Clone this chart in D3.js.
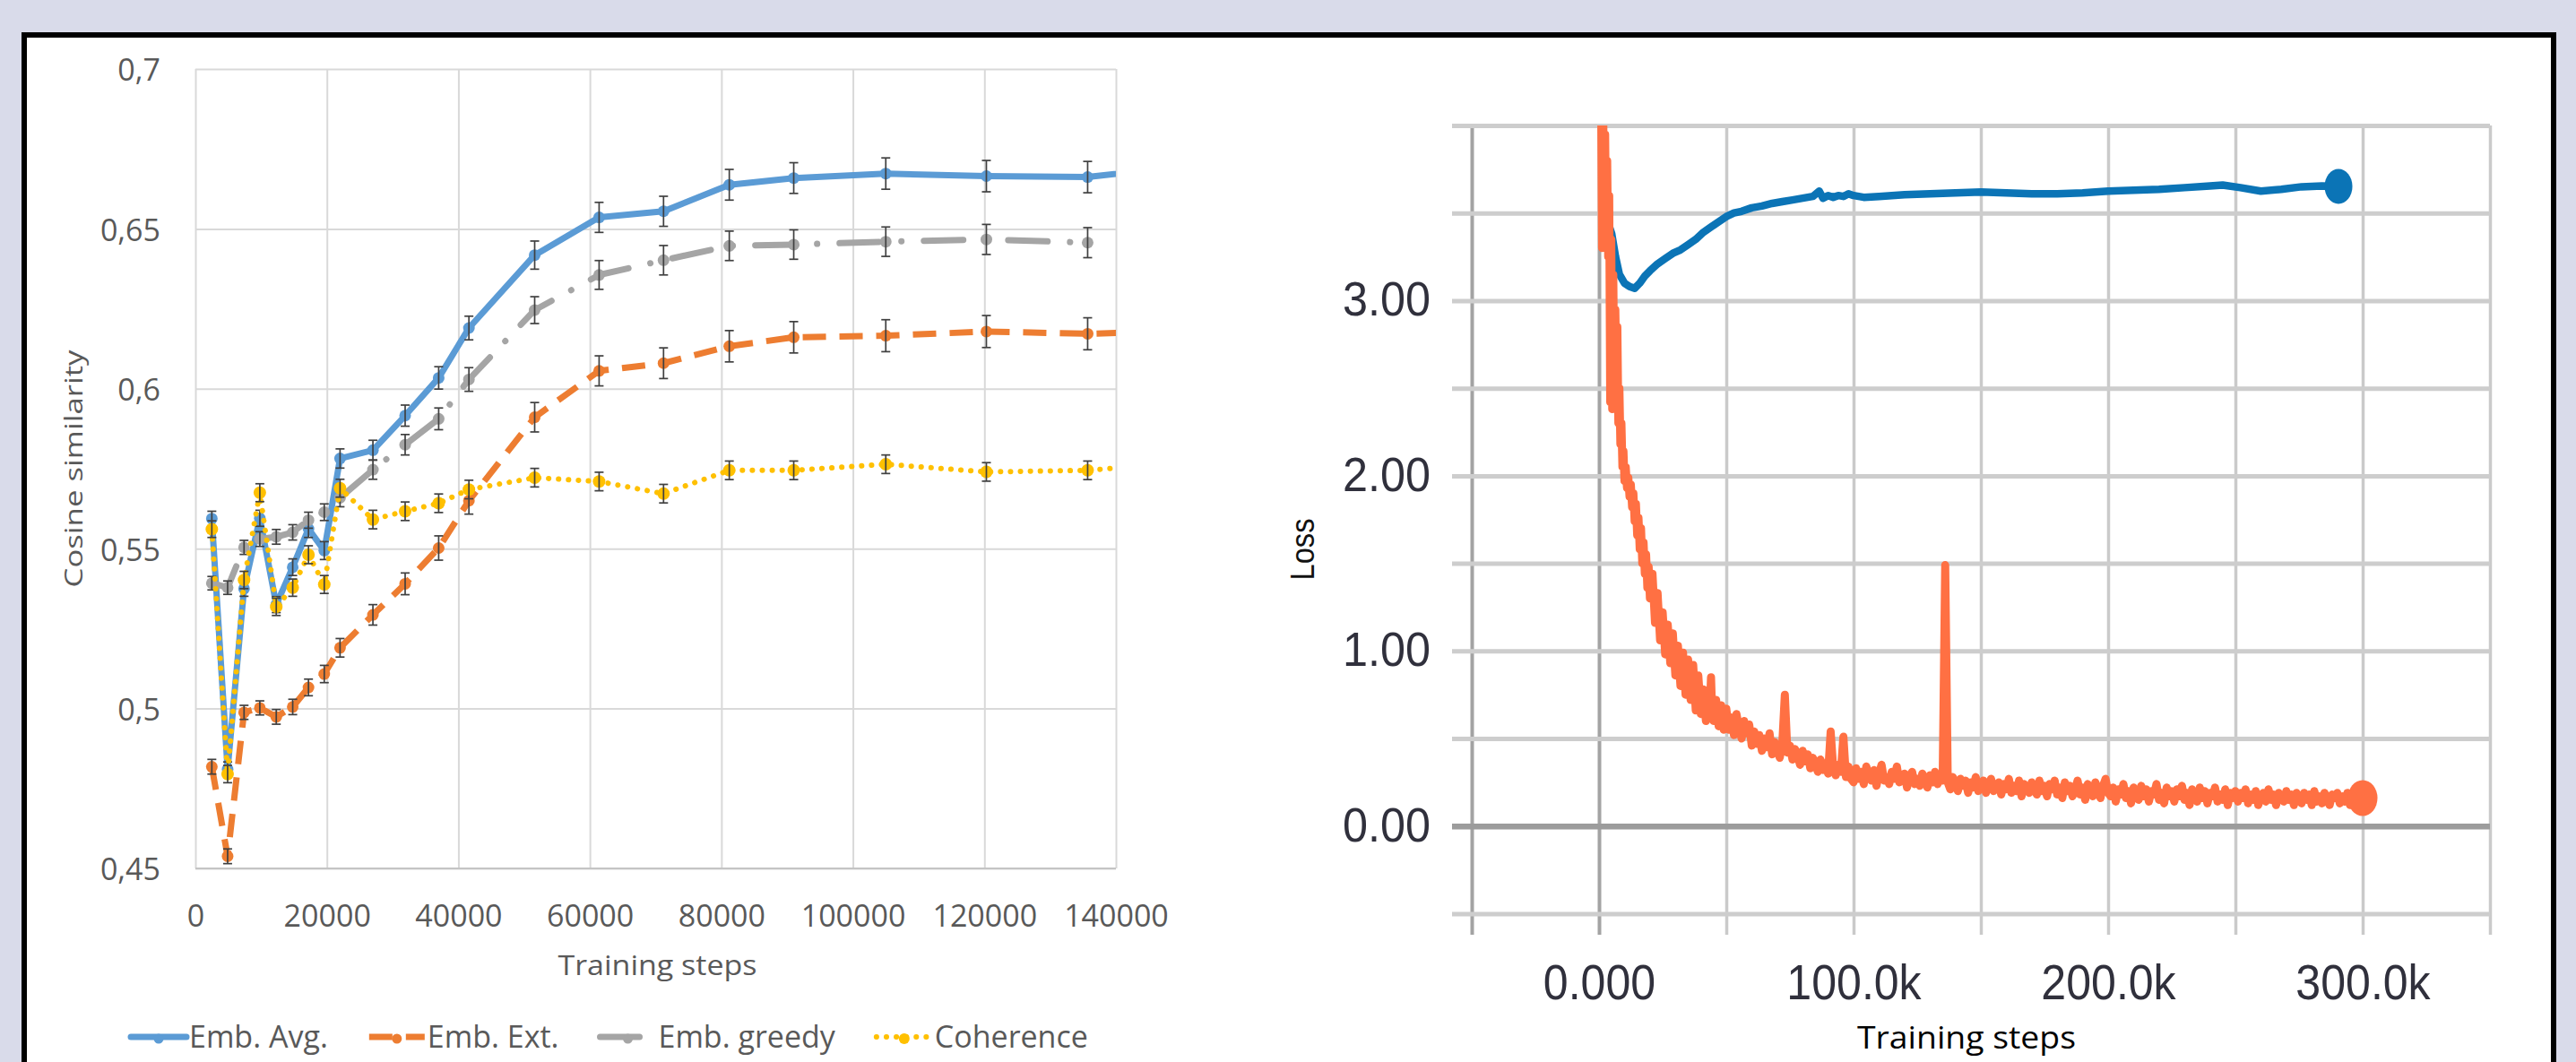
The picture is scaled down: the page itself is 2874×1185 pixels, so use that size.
<!DOCTYPE html>
<html>
<head>
<meta charset="utf-8">
<script src="https://cdn.jsdelivr.net/npm/d3@7"></script>
<style>
html, body { margin: 0; padding: 0; background: #d9dbea; }
svg { display: block; }
</style>
</head>
<body>
<div id="chart"></div>
<script>
// ---------------- left panel: cosine similarity (Excel style) ----------------
// last step lies past the axis end, Excel clips the line at the plot edge
const steps = [2500, 4900, 7400, 9800, 12300, 14800, 17200, 19600, 22000, 27000, 31900, 37000,
    41600, 51600, 61400, 71200, 81200, 91000, 105000, 120300, 135700, 149500];

const embAvg = [0.5594, 0.4810, 0.5375, 0.5595, 0.5325, 0.5442, 0.5562, 0.5494, 0.5782, 0.5808, 0.5916, 0.6034,
    0.6190, 0.6418, 0.6536, 0.6555, 0.6638, 0.6659, 0.6673, 0.6665, 0.6662, 0.6695];
const embAvgErr = [0.0023, 0.0023, 0.0024, 0.0025, 0.0025, 0.0026, 0.0027, 0.0028, 0.0030, 0.0031, 0.0033, 0.0035,
    0.0037, 0.0044, 0.0047, 0.0047, 0.0048, 0.0048, 0.0049, 0.0049, 0.0049, 0.0049];

const embExt = [0.4818, 0.4538, 0.4988, 0.5002, 0.4974, 0.5005, 0.5066, 0.5108, 0.5190, 0.5293, 0.5390, 0.5502,
    0.5650, 0.5911, 0.6056, 0.6080, 0.6133, 0.6161, 0.6166, 0.6179, 0.6172, 0.6180];
const embExtErr = [0.0023, 0.0023, 0.0022, 0.0022, 0.0023, 0.0024, 0.0026, 0.0027, 0.0029, 0.0032, 0.0034, 0.0038,
    0.0042, 0.0046, 0.0047, 0.0048, 0.0049, 0.0049, 0.0050, 0.0050, 0.0050, 0.0050];

const embGreedy = [0.5392, 0.5378, 0.5504, 0.5530, 0.5537, 0.5551, 0.5589, 0.5614, 0.5659, 0.5747, 0.5825, 0.5906,
    0.6029, 0.6246, 0.6356, 0.6402, 0.6447, 0.6451, 0.6460, 0.6467, 0.6457];
const embGreedyErr = [0.0021, 0.0021, 0.0022, 0.0023, 0.0023, 0.0024, 0.0025, 0.0026, 0.0028, 0.0030, 0.0032, 0.0034,
    0.0037, 0.0042, 0.0045, 0.0046, 0.0046, 0.0046, 0.0046, 0.0047, 0.0047];

const coherence = [0.5561, 0.4795, 0.5402, 0.5675, 0.5318, 0.5378, 0.5481, 0.5388, 0.5689, 0.5591, 0.5617, 0.5642,
    0.5685, 0.5722, 0.5710, 0.5672, 0.5745, 0.5745, 0.5764, 0.5740, 0.5745, 0.5768];
const coherenceErr = [0.0026, 0.0027, 0.0027, 0.0028, 0.0027, 0.0027, 0.0028, 0.0028, 0.0028, 0.0029, 0.0029, 0.0029,
    0.0029, 0.0029, 0.0029, 0.0029, 0.0029, 0.0029, 0.0029, 0.0029, 0.0029, 0.0029];

const seriesNames = ['Emb. Avg.', 'Emb. Ext.', 'Emb. greedy', 'Coherence'];

const xTicksL = [0, 20000, 40000, 60000, 80000, 100000, 120000, 140000];
const yTicksL = [0.45, 0.5, 0.55, 0.6, 0.65, 0.7];
const yTickLabelsL = ['0,45', '0,5', '0,55', '0,6', '0,65', '0,7'];

// ---------------- right panel: loss (TensorBoard style) ----------------
// [step in thousands, loss]
const lossBlue = [[1.5, 3.55], [3, 3.47], [5, 3.38], [6.5, 3.25], [8, 3.15], [10, 3.10], [12, 3.08], [14, 3.07],
    [16, 3.10], [18, 3.14], [20, 3.17], [23, 3.21], [26, 3.24], [29, 3.27], [32, 3.29], [35, 3.32], [38, 3.35],
    [41, 3.39], [44, 3.42], [47, 3.45], [50, 3.48], [53, 3.50], [56, 3.51], [60, 3.53], [64, 3.54], [68, 3.555],
    [72, 3.565], [76, 3.575], [80, 3.585], [84, 3.595], [86.5, 3.625], [88, 3.585], [90, 3.60], [92, 3.59],
    [94, 3.60], [96, 3.595], [98, 3.61], [100, 3.60], [104, 3.59], [110, 3.595], [120, 3.605], [130, 3.61],
    [140, 3.615], [150, 3.62], [160, 3.615], [170, 3.61], [180, 3.61], [190, 3.615], [200, 3.625], [210, 3.63],
    [220, 3.635], [230, 3.645], [240, 3.655], [245, 3.66], [252, 3.645], [260, 3.625], [268, 3.635], [276, 3.65],
    [284, 3.655], [290.5, 3.652]];

// steep, very noisy start of the orange curve
const lossOrangeHead = [[0.3, 4.6], [0.8, 4.25], [1.2, 3.3], [1.6, 4.15], [2.0, 3.45], [2.4, 3.95], [2.8, 3.3],
    [3.2, 3.8], [3.6, 3.25], [4.0, 3.6], [4.4, 2.42], [4.8, 3.35], [5.2, 2.38], [5.6, 3.15], [6.0, 2.5],
    [6.4, 2.95], [6.8, 2.6], [7.2, 2.85], [7.6, 2.3], [8.0, 2.5], [8.4, 2.18], [8.8, 2.3], [9.2, 2.05],
    [9.6, 2.14], [10.0, 1.97], [10.5, 2.05], [11.0, 1.93], [11.5, 1.99], [12.0, 1.88], [12.5, 1.95], [13.0, 1.82],
    [13.5, 1.9], [14.0, 1.74], [14.5, 1.84], [15.0, 1.66], [15.5, 1.76], [16.0, 1.58], [16.5, 1.7], [17.0, 1.5],
    [17.5, 1.62], [18.0, 1.44], [18.5, 1.55], [19.0, 1.36], [19.5, 1.48],
    [20, 1.30], [21, 1.44], [22, 1.16], [23, 1.33], [24, 1.06], [25, 1.22], [26, 0.98], [27, 1.15], [28, 0.93],
    [29, 1.10], [30, 0.86], [31, 1.03], [32, 0.80], [33, 0.99], [34, 0.75], [35, 0.95], [36, 0.72], [37, 0.92],
    [38, 0.66], [39, 0.86], [40, 0.64], [41, 0.78], [42, 0.60], [43, 0.74], [43.5, 0.66], [44, 0.85], [44.5, 0.62],
    [45, 0.60], [46, 0.72], [47, 0.57], [48, 0.69], [49, 0.55]];

// logged every 1k steps from 50k to 300k
const lossOrangeTailStartK = 50;
const lossOrangeTail = [
    0.67, 0.55, 0.62, 0.52, 0.64, 0.56, 0.50, 0.60, 0.53, 0.58,   // 50k
    0.46, 0.54, 0.47, 0.52, 0.43, 0.50, 0.45, 0.53, 0.41, 0.48,   // 60k
    0.44, 0.39, 0.47, 0.75, 0.42, 0.46, 0.38, 0.44, 0.40, 0.35,   // 70k
    0.43, 0.37, 0.41, 0.33, 0.39, 0.35, 0.31, 0.38, 0.32, 0.36,   // 80k
    0.30, 0.54, 0.33, 0.29, 0.35, 0.31, 0.51, 0.28, 0.34, 0.27,   // 90k
    0.25, 0.33, 0.27, 0.31, 0.24, 0.34, 0.29, 0.26, 0.32, 0.23,   // 100k
    0.30, 0.35, 0.26, 0.28, 0.24, 0.31, 0.27, 0.34, 0.25, 0.29,   // 110k
    0.30, 0.22, 0.28, 0.31, 0.24, 0.27, 0.23, 0.30, 0.26, 0.22,   // 120k
    0.29, 0.25, 0.31, 0.24, 0.28, 0.26, 1.49, 0.25, 0.21, 0.28,   // 130k
    0.24, 0.20, 0.27, 0.23, 0.26, 0.19, 0.25, 0.22, 0.28, 0.20,   // 140k
    0.24, 0.26, 0.19, 0.23, 0.27, 0.20, 0.22, 0.25, 0.18, 0.24,   // 150k
    0.21, 0.27, 0.19, 0.23, 0.20, 0.26, 0.17, 0.24, 0.22, 0.19,   // 160k
    0.25, 0.21, 0.18, 0.26, 0.20, 0.23, 0.17, 0.24, 0.21, 0.26,   // 170k
    0.18, 0.22, 0.16, 0.25, 0.20, 0.23, 0.17, 0.21, 0.26, 0.18,   // 180k
    0.22, 0.15, 0.24, 0.20, 0.17, 0.25, 0.21, 0.16, 0.23, 0.27,   // 190k
    0.19, 0.17, 0.22, 0.14, 0.21, 0.18, 0.24, 0.16, 0.20, 0.13,   // 200k
    0.22, 0.19, 0.15, 0.23, 0.17, 0.21, 0.14, 0.20, 0.18, 0.24,   // 210k
    0.15, 0.19, 0.13, 0.22, 0.17, 0.20, 0.14, 0.21, 0.17, 0.23,   // 220k
    0.15, 0.19, 0.12, 0.21, 0.17, 0.14, 0.22, 0.16, 0.20, 0.13,   // 230k
    0.19, 0.17, 0.22, 0.14, 0.18, 0.15, 0.21, 0.12, 0.19, 0.16,   // 240k
    0.20, 0.14, 0.19, 0.16, 0.21, 0.13, 0.18, 0.15, 0.20, 0.12,   // 250k
    0.17, 0.19, 0.14, 0.21, 0.15, 0.18, 0.12, 0.19, 0.16, 0.14,   // 260k
    0.20, 0.15, 0.18, 0.12, 0.19, 0.16, 0.13, 0.19, 0.15, 0.18,   // 270k
    0.12, 0.20, 0.14, 0.17, 0.13, 0.19, 0.15, 0.12, 0.18, 0.16,   // 280k
    0.19, 0.13, 0.17, 0.14, 0.19, 0.12, 0.17, 0.15, 0.18, 0.13,   // 290k
    0.16];                                                         // 300k

const xGridR = [-50000, 0, 50000, 100000, 150000, 200000, 250000, 300000, 350000];
const xTicksR = [0, 100000, 200000, 300000];
const xTickLabelsR = ['0.000', '100.0k', '200.0k', '300.0k'];
const yGridR = [-0.5, 0, 0.5, 1, 1.5, 2, 2.5, 3, 3.5, 4];
const yTicksR = [0, 1, 2, 3];
const yTickLabelsR = ['0.00', '1.00', '2.00', '3.00'];


const W = 2874, H = 1185;
const svg = d3.select('#chart').append('svg')
    .attr('width', W)
    .attr('height', H)
    .attr('viewBox', `0,0,${W},${H}`);

svg.append('rect').attr('width', W).attr('height', H).attr('fill', '#d9dbea');
// white card with black frame (bottom edge runs off the picture)
svg.append('rect')
    .attr('x', 27).attr('y', 39)
    .attr('width', 2822).attr('height', 1300)
    .attr('fill', '#ffffff')
    .attr('stroke', '#000')
    .attr('stroke-width', 6);

// squeeze / stretch a text element to a given width
function fit(sel, w) {
    sel.attr('textLength', w).attr('lengthAdjust', 'spacingAndGlyphs');
}

// =============================== left chart ===============================
const xL = d3.scaleLinear().domain([0, 140000]).range([218, 1245]);
const yL = d3.scaleLinear().domain([0.45, 0.7]).range([969, 77]);
const left = svg.append('g');
const fontL = '"Open Sans", "Noto Sans", sans-serif';

left.append('g')
    .attr('transform', `translate(0,${yL(0.45)})`)
    .call(d3.axisBottom(xL).tickValues(xTicksL).tickSize(-(yL(0.45) - yL(0.7))).tickPadding(41).tickFormat(d3.format('d')))
    .call(g => g.select('.domain').remove())
    .call(g => g.selectAll('line').attr('stroke', '#d9d9d9').attr('stroke-width', 2))
    .call(g => g.selectAll('text').attr('fill', '#595959').style('font-family', fontL).style('font-size', '34px'));

left.append('g')
    .attr('transform', `translate(${xL(0)},0)`)
    .call(d3.axisLeft(yL).tickValues(yTicksL).tickSize(-(xL(140000) - xL(0))).tickPadding(39)
        .tickFormat((d, i) => yTickLabelsL[i]))
    .call(g => g.select('.domain').remove())
    .call(g => g.selectAll('line').attr('stroke', '#d9d9d9').attr('stroke-width', 2))
    .call(g => g.selectAll('text').attr('fill', '#595959').attr('dy', '0.38em')
        .style('font-family', fontL).style('font-size', '34px'));

// bottom axis line a touch darker
left.append('line')
    .attr('x1', xL(0)).attr('x2', xL(140000))
    .attr('y1', yL(0.45)).attr('y2', yL(0.45))
    .attr('stroke', '#c4c4c4').attr('stroke-width', 2);

left.append('text')
    .attr('x', (xL(0) + xL(140000)) / 2 + 2)
    .attr('y', 1088)
    .attr('text-anchor', 'middle')
    .attr('fill', '#595959')
    .style('font-family', fontL).style('font-size', '31px')
    .text('Training steps')
    .call(fit, 222);

left.append('text')
    .attr('transform', `translate(92,${(yL(0.45) + yL(0.7)) / 2})rotate(-90)`)
    .attr('text-anchor', 'middle')
    .attr('fill', '#595959')
    .style('font-family', fontL).style('font-size', '28px')
    .text('Cosine similarity')
    .call(fit, 265);

svg.append('clipPath').attr('id', 'clipL')
    .append('rect')
    .attr('x', xL(0)).attr('y', yL(0.7) - 8)
    .attr('width', xL(140000) - xL(0)).attr('height', yL(0.45) - yL(0.7) + 16);

const seriesL = [
    { name: seriesNames[0], values: embAvg, err: embAvgErr, color: '#5b9bd5', width: 7, dash: null, cap: 'round', r: 6.5 },
    { name: seriesNames[1], values: embExt, err: embExtErr, color: '#ed7d31', width: 7, dash: '26,15', cap: 'butt', r: 6.5 },
    { name: seriesNames[2], values: embGreedy, err: embGreedyErr, color: '#a5a5a5', width: 7, dash: '44,25,0.1,25', cap: 'round', r: 6.5 },
    { name: seriesNames[3], values: coherence, err: coherenceErr, color: '#ffc000', width: 6, dash: '0.1,11', cap: 'round', r: 7 }
];

const lineL = d3.line().x(d => xL(d[0])).y(d => yL(d[1]));
const plotL = left.append('g').attr('clip-path', 'url(#clipL)');

seriesL.forEach(s => {
    const pts = s.values.map((v, i) => [steps[i], v, s.err[i]]);
    const g = plotL.append('g');
    g.append('path')
        .attr('d', lineL(pts))
        .attr('fill', 'none')
        .attr('stroke', s.color)
        .attr('stroke-width', s.width)
        .attr('stroke-linecap', s.cap)
        .attr('stroke-linejoin', 'round')
        .attr('stroke-dasharray', s.dash);
    g.selectAll('circle')
        .data(pts)
        .join('circle')
        .attr('cx', d => xL(d[0]))
        .attr('cy', d => yL(d[1]))
        .attr('r', s.r)
        .attr('fill', s.color);
    // error bars
    const eb = g.selectAll('g.eb').data(pts).join('g').attr('class', 'eb')
        .attr('stroke', '#404040').attr('stroke-width', 1.7);
    eb.append('line')
        .attr('x1', d => xL(d[0])).attr('x2', d => xL(d[0]))
        .attr('y1', d => yL(d[1] - d[2])).attr('y2', d => yL(d[1] + d[2]));
    eb.append('line')
        .attr('x1', d => xL(d[0]) - 5).attr('x2', d => xL(d[0]) + 5)
        .attr('y1', d => yL(d[1] + d[2])).attr('y2', d => yL(d[1] + d[2]));
    eb.append('line')
        .attr('x1', d => xL(d[0]) - 5).attr('x2', d => xL(d[0]) + 5)
        .attr('y1', d => yL(d[1] - d[2])).attr('y2', d => yL(d[1] - d[2]));
});

// legend
const legend = left.append('g').attr('transform', 'translate(146,1157)');
let lx = 0;
seriesL.forEach(s => {
    const item = legend.append('g').attr('transform', `translate(${lx},0)`);
    item.append('line')
        .attr('x1', 0).attr('x2', 62)
        .attr('stroke', s.color)
        .attr('stroke-width', s.width)
        .attr('stroke-linecap', s.cap)
        .attr('stroke-dasharray', s.dash);
    item.append('circle').attr('cx', 31).attr('cy', 2).attr('r', s.r - 1).attr('fill', s.color);
    const t = item.append('text')
        .attr('x', 65).attr('y', 12)
        .attr('fill', '#595959')
        .style('font-family', fontL).style('font-size', '34px')
        .text(s.name);
    lx += 65 + t.node().getComputedTextLength() + 46;
});

// =============================== right chart ===============================
const xR = d3.scaleLinear().domain([-50000, 350000]).range([1642, 2778]);
const yR = d3.scaleLinear().domain([-0.5, 4]).range([1019.5, 140]);
const right = svg.append('g');
const fontR = '"Liberation Sans", Arial, sans-serif';

// vertical grid
right.append('g')
    .attr('transform', `translate(0,1043)`)
    .call(d3.axisBottom(xR).tickValues(xGridR).tickSize(-(1043 - yR(4))).tickFormat(''))
    .call(g => g.select('.domain').remove())
    .call(g => g.selectAll('line')
        .attr('stroke', d => d <= 0 ? '#a3a3a3' : '#cacaca')
        .attr('stroke-width', d => d <= 0 ? 4 : 3.5));

// horizontal grid
right.append('g')
    .attr('transform', `translate(1620,0)`)
    .call(d3.axisLeft(yR).tickValues(yGridR).tickSize(-(xR(350000) - 1620)).tickFormat(''))
    .call(g => g.select('.domain').remove())
    .call(g => g.selectAll('line')
        .attr('stroke', d => d === 0 ? '#9c9c9c' : '#cdcdcd')
        .attr('stroke-width', d => d === 0 ? 6.5 : 5));

// tick labels
right.append('g')
    .attr('transform', `translate(1620,0)`)
    .call(d3.axisLeft(yR).tickValues(yTicksR).tickSize(0).tickPadding(24).tickFormat((d, i) => yTickLabelsR[i]))
    .call(g => g.select('.domain').remove())
    .call(g => g.selectAll('text').attr('fill', '#30303c').attr('dy', '0.31em')
        .style('font-family', fontR).style('font-size', '53px')
        .each(function () { d3.select(this).call(fit, 98); }));

right.append('g')
    .attr('transform', `translate(0,1043)`)
    .call(d3.axisBottom(xR).tickValues(xTicksR).tickSize(0).tickPadding(33).tickFormat((d, i) => xTickLabelsR[i]))
    .call(g => g.select('.domain').remove())
    .call(g => g.selectAll('text').attr('fill', '#30303c').attr('dy', '0.71em')
        .style('font-family', fontR).style('font-size', '55px')
        .each(function () {
            const w = this.getComputedTextLength();
            d3.select(this).call(fit, w * 0.91);
        }));

right.append('text')
    .attr('x', 2194).attr('y', 1170)
    .attr('text-anchor', 'middle')
    .attr('fill', '#000')
    .style('font-family', fontL).style('font-size', '34px')
    .text('Training steps')
    .call(fit, 244);

right.append('text')
    .attr('transform', `translate(1466,613)rotate(-90)`)
    .attr('text-anchor', 'middle')
    .attr('fill', '#111')
    .style('font-family', fontR).style('font-size', '36px')
    .text('Loss')
    .call(fit, 69);

svg.append('clipPath').attr('id', 'clipR')
    .append('rect')
    .attr('x', 1620).attr('y', yR(4))
    .attr('width', xR(350000) - 1620).attr('height', 1043 - yR(4));

const lossOrange = lossOrangeHead.concat(lossOrangeTail.map((v, i) => [lossOrangeTailStartK + i, v]));

const lineR = d3.line().x(d => xR(d[0] * 1000)).y(d => yR(d[1]));
const plotR = right.append('g').attr('clip-path', 'url(#clipR)');

plotR.append('path')
    .attr('d', lineR(lossBlue))
    .attr('fill', 'none')
    .attr('stroke', '#0b74b6')
    .attr('stroke-width', 8.5)
    .attr('stroke-linejoin', 'round')
    .attr('stroke-linecap', 'round');

plotR.append('path')
    .attr('d', lineR(lossOrange))
    .attr('fill', 'none')
    .attr('stroke', '#ff7043')
    .attr('stroke-width', 9)
    .attr('stroke-linejoin', 'round');

const lastBlue = lossBlue[lossBlue.length - 1];
const lastOrange = lossOrange[lossOrange.length - 1];
plotR.append('ellipse')
    .attr('cx', xR(lastBlue[0] * 1000)).attr('cy', yR(lastBlue[1]))
    .attr('rx', 15.5).attr('ry', 19.5)
    .attr('fill', '#0b74b6');
plotR.append('ellipse')
    .attr('cx', xR(lastOrange[0] * 1000)).attr('cy', yR(lastOrange[1]))
    .attr('rx', 16.5).attr('ry', 20)
    .attr('fill', '#ff7043');
</script>
</body>
</html>
